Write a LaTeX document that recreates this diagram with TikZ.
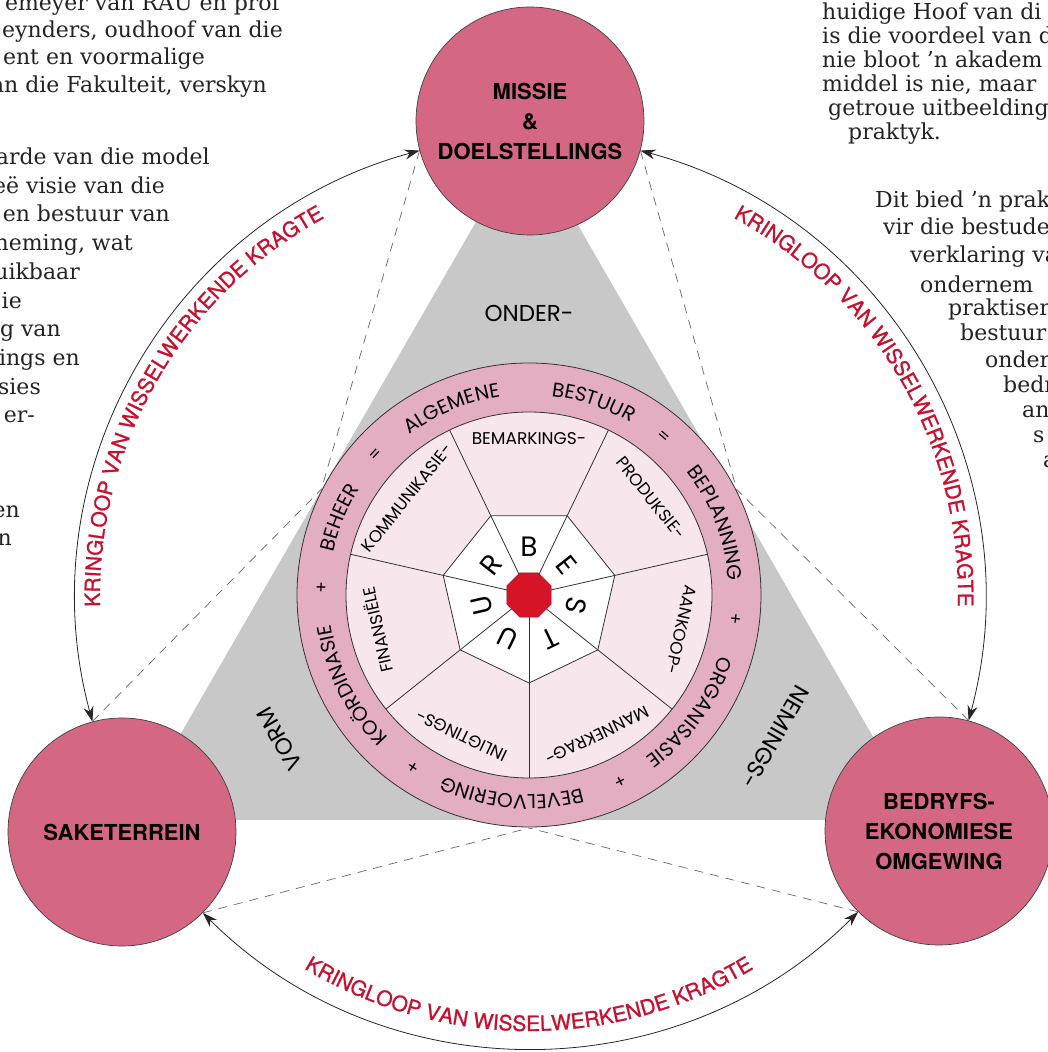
\documentclass[tikz,border=0pt]{standalone}
\usepackage{fontspec}
\setmainfont{DejaVu Serif}
\newfontfamily\heros{TeX Gyre Heros}
\newfontfamily\herosmed[FakeBold=1]{TeX Gyre Heros}
\newfontfamily\avant{Poppins}
\usetikzlibrary{arrows.meta,decorations.text}

\definecolor{discpink}{RGB}{212,104,132}
\definecolor{ringpink}{RGB}{228,174,194}
\definecolor{secpink}{RGB}{247,231,237}
\definecolor{hubred}{RGB}{214,20,40}
\definecolor{trigray}{RGB}{200,200,200}
\definecolor{loopred}{RGB}{200,16,46}
\definecolor{ink}{RGB}{35,35,35}

\newcommand\ringfont{\avant\fontsize{20}{22}\selectfont}
\newcommand\loopfont{\herosmed\fontsize{21}{24}\selectfont\color{loopred}}
% word on the pink ring, centred at angle #1
\newcommand\ringword[2]{%
	\path[decorate, decoration={text along path, text align=center, text={|\ringfont|#2}}]
		(#1+50:200) arc[start angle=#1+50, end angle=#1-50, radius=200];}
% red label along one of the outer arcs
\newcommand\loopword[3]{%
	\path[decorate, decoration={text along path, text align=center, text={|\loopfont|KRINGLOOP VAN WISSELWERKENDE KRAGTE}}]
		(C) ++(#2:#1) arc[start angle=#2, end angle=#3, radius=#1];}

\begin{document}
\begin{tikzpicture}[x=1pt, y=1pt,
	bigdisc/.style={circle, draw=black!75, line width=0.7pt, fill=discpink, minimum size=228pt, inner sep=0pt, align=center, font=\heros\bfseries\fontsize{22}{30}\selectfont},
	cycleline/.style={{Stealth[length=15pt,width=10pt]}-{Stealth[length=15pt,width=10pt]}, line width=0.8pt, black!85},
	guide/.style={dash pattern=on 9pt off 7pt, line width=0.7pt, black!60},
	rim/.style={line width=0.8pt, black!80},
	seclabel/.style={font=\avant\fontsize{17}{18}\selectfont, inner sep=0pt},
	hub/.style={font=\avant\fontsize{28}{30}\selectfont, inner sep=0pt},
	sign/.style={font=\avant\fontsize{17}{18}\selectfont, inner sep=0pt},
	cornerword/.style={font=\avant\fontsize{23}{26}\selectfont, inner sep=0pt},
	pagetext/.style={font=\fontsize{22}{24}\selectfont, text=ink, inner sep=0pt}]
	\useasboundingbox (0,0) rectangle (1047,1052);
	\coordinate (C) at (529,457);

	% grey triangle behind the wheel
	\fill[trigray] (526,917) -- (131,232) -- (921,232) -- cycle;

	% the three discs
	\node[bigdisc] (M) at (530,931) {MISSIE\\\&\\DOELSTELLINGS};
	\node[bigdisc] (S) at (122,220) {SAKETERREIN};
	\node[bigdisc] (B) at (939,221) {BEDRYFS-\\EKONOMIESE\\OMGEWING};

	% dashed guides to the wheel
	\path (C) ++(153:233) coordinate (pl) (C) ++(27:233) coordinate (pr) (C) ++(-90:233) coordinate (pb);
	\draw[guide] (M.195) -- (pl);
	\draw[guide] (S.105) -- (pl);
	\draw[guide] (M.345) -- (pr);
	\draw[guide] (B.75) -- (pr);
	\draw[guide] (S.315) -- (pb);
	\draw[guide] (B.225) -- (pb);

	% the wheel
	\begin{scope}[shift={(C)}]
		\fill[secpink] (0,0) circle[radius=183];
		\fill[ringpink, even odd rule] (0,0) circle[radius=232] circle[radius=183];
		\draw[rim, fill=white] (-90:88) \foreach \a in {-38.57,12.86,64.29,115.71,167.14,218.57} { -- (\a:88) } -- cycle;
		\foreach \a in {-90,-38.57,12.86,64.29,115.71,167.14,218.57}
			\draw[rim] (0,0) -- (\a:183);
		\draw[rim] (0,0) circle[radius=232] (0,0) circle[radius=183];
		\filldraw[fill=hubred, draw=hubred!70!black] (22.5:24) \foreach \a in {67.5,112.5,...,337.5} { -- (\a:24) } -- cycle;
		\foreach \ch [count=\k from 0] in {B,E,S,T,U,U,R}
			\node[hub, rotate=-51.43*\k] (h\k) at (90-51.43*\k:48) {\ch};
		\foreach \lab [count=\k from 0] in {BEMARKINGS-,PRODUKSIE-,AANKOOP-,MANNEKRAG-,INLIGTINGS-,FINANSIËLE,KOMMUNIKASIE-}
			\node[seclabel, rotate=-51.43*\k] (f\k) at (90-51.43*\k:156) {\lab};
		\ringword{112.5}{ALGEMENE}
		\ringword{71.5}{BESTUUR}
		\ringword{21}{BEPLANNING}
		\ringword{-36}{ORGANISASIE}
		\ringword{-95}{BEVELVOERING}
		\ringword{-153}{KOÖRDINASIE}
		\ringword{157.8}{BEHEER}
		\foreach \a/\s [count=\k] in {49.5/=,137.5/=,-6.5/+,-64/+,-124/+,177.8/+}
			\node[sign, rotate=\a-90] (g\k) at (\a:207) {\s};
		\node[cornerword] (tu) at (90:282) {ONDER-};
		\node[cornerword, rotate=-120] (tr) at (-30:284) {NEMINGS-};
		\node[cornerword, rotate=-240] (tl) at (-150:288) {VORM};
	\end{scope}

	% cycles between the discs
	\draw[cycleline] (M.195) to[bend right=45] (S.105);
	\draw[cycleline] (M.345) to[bend left=45] (B.75);
	\draw[cycleline] (S.315) to[bend right=45] (B.225);
	\loopword{429}{200}{100}
	\loopword{429}{80}{-20}
	\loopword{436}{220}{320}

	% page text round the figure
	\foreach \x/\y/\t [count=\k] in {280/1044/{emeyer van RAU en prof}, 283/1017/{eynders, oudhoof van die},
		205/990/{ent en voormalige}, 267/962/{an die Fakulteit, verskyn}, 210/890/{arde van die model},
		165/861/{eë visie van die}, 170/833/{en bestuur van}, 133/804/{neming, wat}, 80/775/{uikbaar},
		22/746/{ie}, 61/718/{g van}, 80/689/{ings en}, 41/660/{sies}, 35/632/{er-}, 20/537/{en}, 12/509/{n}}
		\node[pagetext, anchor=mid east] (lt\k) at (\x,\y) {\t};
	\foreach \x/\y/\t [count=\k] in {822/1035/{huidige Hoof van di}, 822/1011/{is die voordeel van d},
		822/987/{nie bloot ’n akadem}, 822/963/{middel is nie, maar}, 828/939/{getroue uitbeelding},
		848/915/{praktyk.}, 875/847/{Dit bied ’n prak}, 883/820/{vir die bestude}, 910/792/{verklaring va},
		920/762/{ondernem}, 948/739/{praktiser}, 960/714/{bestuur}, 985/687/{onder}, 1003/662/{bedr},
		1022/637/{an}, 1033/612/{s}, 1043/587/{a}}
		\node[pagetext, anchor=mid west] (rt\k) at (\x,\y) {\t};
\end{tikzpicture}
\end{document}
